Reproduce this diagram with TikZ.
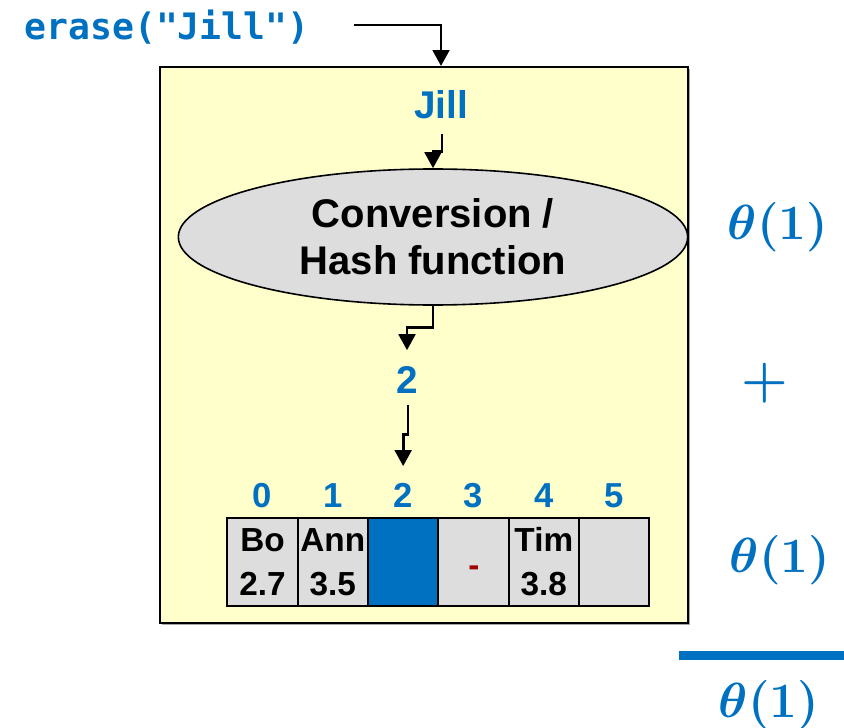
\RequirePackage{fix-cm}
\documentclass[tikz,border=0pt]{standalone}
\usepackage[no-math]{fontspec}
\usepackage{amsmath}
\newfontfamily\arialfont{Liberation Sans}
\newfontfamily\codefont{DejaVu Sans Mono}
\usetikzlibrary{arrows.meta,shapes.geometric,shadows,calc}
\definecolor{keyblue}{HTML}{0070C0}
\definecolor{paleyellow}{HTML}{FFFFCC}
\definecolor{cellgray}{HTML}{DDDDDD}
\definecolor{darkred}{HTML}{A00000}

\begin{document}
\begin{tikzpicture}[x=0.75pt,y=-0.75pt,
  flow/.style={line width=2.2pt,-{Triangle[length=12pt,width=12.5pt]}},
  bluelabel/.style={text=keyblue,inner sep=0pt,font=\arialfont\bfseries\fontsize{29}{34}\selectfont},
  idx/.style={text=keyblue,inner sep=0pt,font=\arialfont\bfseries\fontsize{26}{30}\selectfont},
  slot/.style={draw=black,line width=1.5pt,fill=cellgray,minimum width=52.75pt,
    minimum height=66pt,inner sep=0pt,align=center,
    font=\arialfont\bfseries\fontsize{25}{33}\selectfont},
  cost/.style={text=keyblue,inner sep=0pt,font=\fontsize{37}{44}\selectfont\boldmath}]

\useasboundingbox (0,0) rectangle (844,728);

% call
\node[anchor=base,text=keyblue,inner sep=0pt,font=\codefont\bfseries\fontsize{27.3}{32}\selectfont]
  (call) at (167,40) {erase("Jill")};
\coordinate (callstart) at (354,25);

% hash table box
\node[draw=black,line width=1.5pt,fill=paleyellow,minimum width=396pt,minimum height=417pt,
  inner sep=0pt,drop shadow={shadow xshift=1.5pt,shadow yshift=-1.5pt,fill=gray!70,opacity=1}]
  (frame) at (424,345) {};

\node[bluelabel] (jill) at (441,105) {Jill};

\node[ellipse,draw=black,line width=1.2pt,fill=cellgray,minimum width=382pt,minimum height=102pt,
  inner sep=0pt,align=center,font=\arialfont\bfseries\fontsize{30}{35}\selectfont]
  (hash) at (433,237) {Conversion /\\Hash function};

\node[bluelabel] (two) at (407,380) {2};

% slots
\foreach \i/\t in {0/{Bo\\2.7},1/{Ann\\3.5},2/{},3/{},4/{Tim\\3.8},5/{}} {
  \node[slot] (c\i) at ({262.5+70.33*\i},562) {\t};
  \node[idx] (i\i) at ({262.5+70.33*\i},495.5) {\i};
}
\node[slot,fill=keyblue] at (c2) {};
\node[text=darkred,inner sep=0pt,font=\arialfont\bfseries\fontsize{25}{30}\selectfont]
  (gone) at (474,571) {-};

% connectors
\draw[flow] (callstart) -| (jill.center |- frame.north);
\draw[flow] ($(jill.south)+(1,15)$) -- ++(0,17) -| (hash.north);
\draw[flow] (hash.south) -- ++(0,22) -| ($(two.north)+(0,-16)$);
\draw[flow] ($(two.south)+(1,11)$) -- ++(0,30) -| ($(i2.north)+(0,-17)$);

% running cost
\node[cost] (cost1) at (778,227) {$\theta(1)$};
\node[cost,font=\fontsize{40}{48}\selectfont\boldmath] (plus) at (765,383) {$+$};
\node[cost] (cost2) at (780,560) {$\theta(1)$};
\draw[keyblue,line width=6.5pt] (679,655.5) -- (844,655.5);
\node[cost] (total) at (769,705) {$\theta(1)$};
\end{tikzpicture}
\end{document}
